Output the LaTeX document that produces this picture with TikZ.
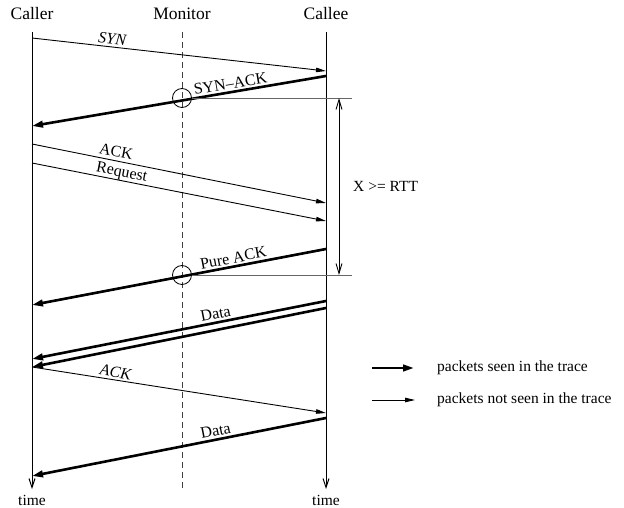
\documentclass[tikz,border=0pt]{standalone}
\usepackage{fontspec}
\setmainfont{Liberation Serif}
\usetikzlibrary{arrows.meta}
\definecolor{rulegray}{gray}{0.4}

\begin{document}
\begin{tikzpicture}[x=1pt,y=-1pt,
		life/.style={line width=1pt},
		seen/.style={line width=2.6pt,-{Triangle[length=11pt,width=6.5pt]}},
		unseen/.style={line width=0.9pt,-{Triangle[length=10pt,width=4.5pt]}},
		head/.style={font=\fontsize{17.5}{20}\selectfont},
		lbl/.style={font=\fontsize{16}{18}\selectfont,sloped,above,inner sep=2pt},
		legend/.style={font=\fontsize{15.5}{18}\selectfont,anchor=west,inner sep=0pt}]
				\useasboundingbox (0,0) rectangle (624,508);
				\node[head] (caller) at (32,14) {Caller};
				\node[head] (monitor) at (182,14) {Monitor};
				\node[head] (callee) at (326,14) {Callee};
				\node[legend,anchor=center] (time1) at (32,500) {time};
				\node[legend,anchor=center] (time2) at (326,500) {time};
				
				\coordinate (caller-top) at (32,32);
				\coordinate (caller-end) at (32,489);
				\coordinate (callee-top) at (326,32);
				\coordinate (callee-end) at (326,489);
				\coordinate (monitor-top) at (182,32);
				\coordinate (monitor-end) at (182,489);
				\draw[life,-{Straight Barb[length=9pt,width=6pt]}] (caller-top)--(caller-end);
				\draw[life,-{Straight Barb[length=9pt,width=6pt]}] (callee-top)--(callee-end);
				\draw[line width=0.9pt,black!75,dash pattern=on 6pt off 4pt] (monitor-top)--(monitor-end);
				
				\coordinate (syn-a) at (32,38);
				\coordinate (syn-b) at (326,71);
				\coordinate (synack-a) at (326,76);
				\coordinate (synack-b) at (32,126);
				\coordinate (ack-a) at (32,144);
				\coordinate (ack-b) at (326,203);
				\coordinate (req-a) at (32,163);
				\coordinate (req-b) at (326,221);
				\coordinate (pack-a) at (326,249);
				\coordinate (pack-b) at (32,305);
				\coordinate (data-a) at (326,301);
				\coordinate (data-b) at (32,359);
				\coordinate (datab-a) at (326,308);
				\coordinate (datab-b) at (32,367);
				\coordinate (ackb-a) at (32,367);
				\coordinate (ackb-b) at (326,413);
				\coordinate (datac-a) at (326,418);
				\coordinate (datac-b) at (32,476);
				
				\draw[unseen] (syn-a)--(syn-b) node[lbl,pos=0.27,font=\fontsize{16}{18}\selectfont\itshape] {SYN};
				\draw[seen] (synack-a)--(synack-b) node[lbl,pos=0.32] {SYN--ACK};
				\draw[unseen] (ack-a)--(ack-b) node[lbl,pos=0.28,inner sep=3.5pt] {ACK};
				\draw[unseen] (req-a)--(req-b) node[lbl,pos=0.30,inner sep=0pt] {Request};
				\draw[seen] (pack-a)--(pack-b) node[lbl,pos=0.31] {Pure ACK};
				\draw[seen] (data-a)--(data-b) node[lbl,pos=0.37] {Data};
				\draw[seen] (datab-a)--(datab-b);
				\draw[unseen] (ackb-a)--(ackb-b) node[lbl,pos=0.28,font=\fontsize{16}{18}\selectfont\itshape] {ACK};
				\draw[seen] (datac-a)--(datac-b) node[lbl,pos=0.37] {Data};
				
				\node[draw,circle,line width=0.8pt,minimum size=19pt,inner sep=0pt] (obs1) at (182,98) {};
				\node[draw,circle,line width=0.8pt,minimum size=19pt,inner sep=0pt] (obs2) at (182,275) {};
				\coordinate (mark1) at (352,98);
				\coordinate (mark2) at (352,275);
				\draw[rulegray,line width=0.9pt] (obs1.east)--(mark1);
				\draw[rulegray,line width=0.9pt] (obs2.east)--(mark2);
				\coordinate (rtt-a) at (339,98);
				\coordinate (rtt-b) at (339,275);
				\draw[line width=0.9pt,{Straight Barb[length=10pt,width=6pt]}-{Straight Barb[length=10pt,width=6pt]}] (rtt-a)--(rtt-b);
				\node[legend] (rtt) at (353,186) {X >= RTT};
				
				\coordinate (key1-a) at (372,368);
				\coordinate (key1-b) at (414,368);
				\coordinate (key2-a) at (372,400);
				\coordinate (key2-b) at (415,400);
				\draw[seen] (key1-a)--(key1-b);
				\draw[unseen] (key2-a)--(key2-b);
				\node[legend] (key1) at (437,368) {packets seen in the trace};
				\node[legend] (key2) at (437,400) {packets not seen in the trace};
\end{tikzpicture}
\end{document}
